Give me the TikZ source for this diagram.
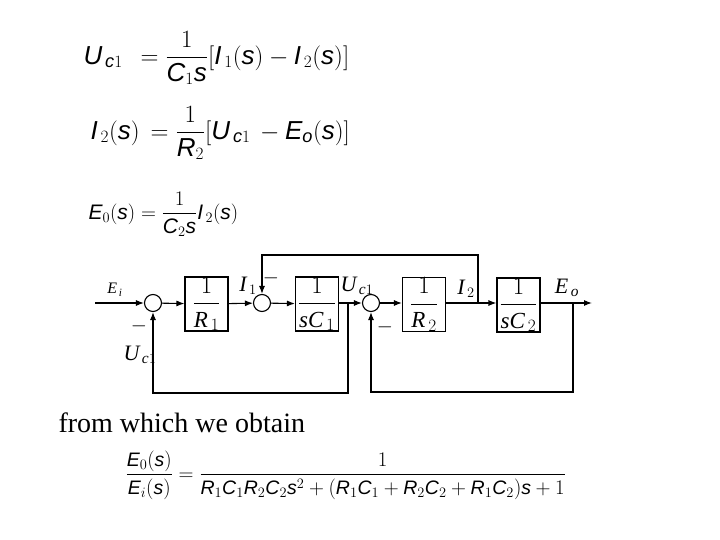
\documentclass[tikz,border=0pt]{standalone}
\usepackage{amsmath}
\usepackage{fontspec}
\setmainfont{Liberation Serif}
\newfontfamily\arialfont{Liberation Sans}
\newcommand{\av}[1]{\text{\arialfont\itshape #1}}
\usetikzlibrary{arrows.meta, calc, positioning}

\begin{document}
\begin{tikzpicture}[x=1pt, y=-1pt, line width=1.1pt,
    blk/.style={draw, minimum width=43pt, minimum height=54pt, inner sep=0pt, font=\fontsize{23}{26}\selectfont},
    sumc/.style={draw, circle, minimum size=17pt, inner sep=0pt},
    sig/.style={-{Latex[length=8pt,width=6pt]}},
    lbl/.style={inner sep=0pt, font=\fontsize{22}{24}\selectfont},
    slbl/.style={inner sep=0pt, font=\fontsize{16}{18}\selectfont}]
    \useasboundingbox (0,0) rectangle (720,540);
    % equations
    \node[anchor=west, inner sep=0pt, font=\fontsize{26}{29}\selectfont] (eqa) at (83,58)
        {$\av{U}_{\,\av{c}1}\;\,=\dfrac{1}{\av{C}_1\av{s}}[\av{I}_{\,1}(\av{s})-\av{I}_{\,2}(\av{s})]$};
    \node[anchor=west, inner sep=0pt, font=\fontsize{26}{29}\selectfont] (eqb) at (90,133)
        {$\av{I}_{\,2}(\av{s})\, =\dfrac{1}{\av{R}_2}[\av{U}_{\,\av{c}1}\,-\av{E}_{\av{o}}(\av{s})]$};
    \node[anchor=west, inner sep=0pt, font=\fontsize{21}{24}\selectfont] (eqc) at (88,214)
        {$\av{E}_0(\av{s}) =\dfrac{1}{\av{C}_2\av{s}}\av{I}_{\,2}(\av{s})$};
    % block diagram
    \coordinate (in) at (95,303);
    \node[sumc] (s1) at (153,303) {};
    \node[blk] (b1) at (206.5,304) {$\dfrac{1}{\mathit{R}_{\,1}}$};
    \node[sumc] (s2) at (262,303) {};
    \node[blk] (b2) at (317,304) {$\dfrac{1}{\mathit{sC}_{\,1}}$};
    \node[sumc] (s3) at (371,303) {};
    \node[blk] (b3) at (424,304.5) {$\dfrac{1}{\mathit{R}_{\,2}}$};
    \node[blk] (b4) at (518.5,305) {$\dfrac{1}{\mathit{sC}_{\,2}}$};
    \coordinate (out) at (592,303);
    \coordinate (u1) at (348,303);
    \coordinate (i2) at (478,303);
    \coordinate (eo) at (573,303);
    \coordinate (fb1) at (348,393);
    \coordinate (fb2) at (573,392);
    \coordinate (fb3) at (478,255);
    \draw[sig] (in) -- (s1);
    \draw[sig] (s1) -- (b1);
    \draw[sig] (b1) -- (s2);
    \draw[sig] (s2) -- (b2);
    \draw[sig] (b2.east |- s3) -- (s3);
    \draw[sig] (s3) -- (b3.west |- s3);
    \draw[sig] (b3.east |- i2) -- (b4.west |- i2);
    \draw[sig] (b4.east |- eo) -- (out);
    % feedback paths
    \draw[sig] (u1) -- (fb1) -| (s1);
    \draw[sig] (eo) -- (fb2) -| (s3);
    \draw[sig] (i2) -- (fb3) -| (s2);
    % signal labels
    \node[slbl] (lei) at (115,290) {$\mathit{E}_{\,\mathit{i}}$};
    \node[lbl] (lm1) at (139,326) {$-$};
    \node[lbl] (luc1) at (140,355) {$\mathit{U}_{\,\mathit{c}1}$};
    \node[lbl] (li1) at (248,286) {$\mathit{I}_{\,1}$};
    \node[lbl] (lm2) at (271,278) {$-$};
    \node[lbl] (luc2) at (357,286) {$\mathit{U}_{\,\mathit{c}1}$};
    \node[lbl] (lm3) at (385,327) {$-$};
    \node[lbl] (li2) at (466,289) {$\mathit{I}_{\,2}$};
    \node[lbl] (leo) at (567,288) {$\mathit{E}_{\,\mathit{o}}$};
    % result
    \node[anchor=base west, inner sep=0pt, font=\fontsize{28}{31}\selectfont] (txt) at (58,432) {from which we obtain};
    \node[anchor=west, inner sep=0pt, font=\fontsize{19.5}{22}\selectfont] (eqd) at (125,475)
        {$\dfrac{\av{E}_0(\av{s})}{\av{E}_i(\av{s})}=\dfrac{1}{\av{R}_1\av{C}_1\av{R}_2\av{C}_2\av{s}^2+(\av{R}_1\av{C}_1+\av{R}_2\av{C}_2+\av{R}_1\av{C}_2)\av{s}+1}$};
\end{tikzpicture}
\end{document}
